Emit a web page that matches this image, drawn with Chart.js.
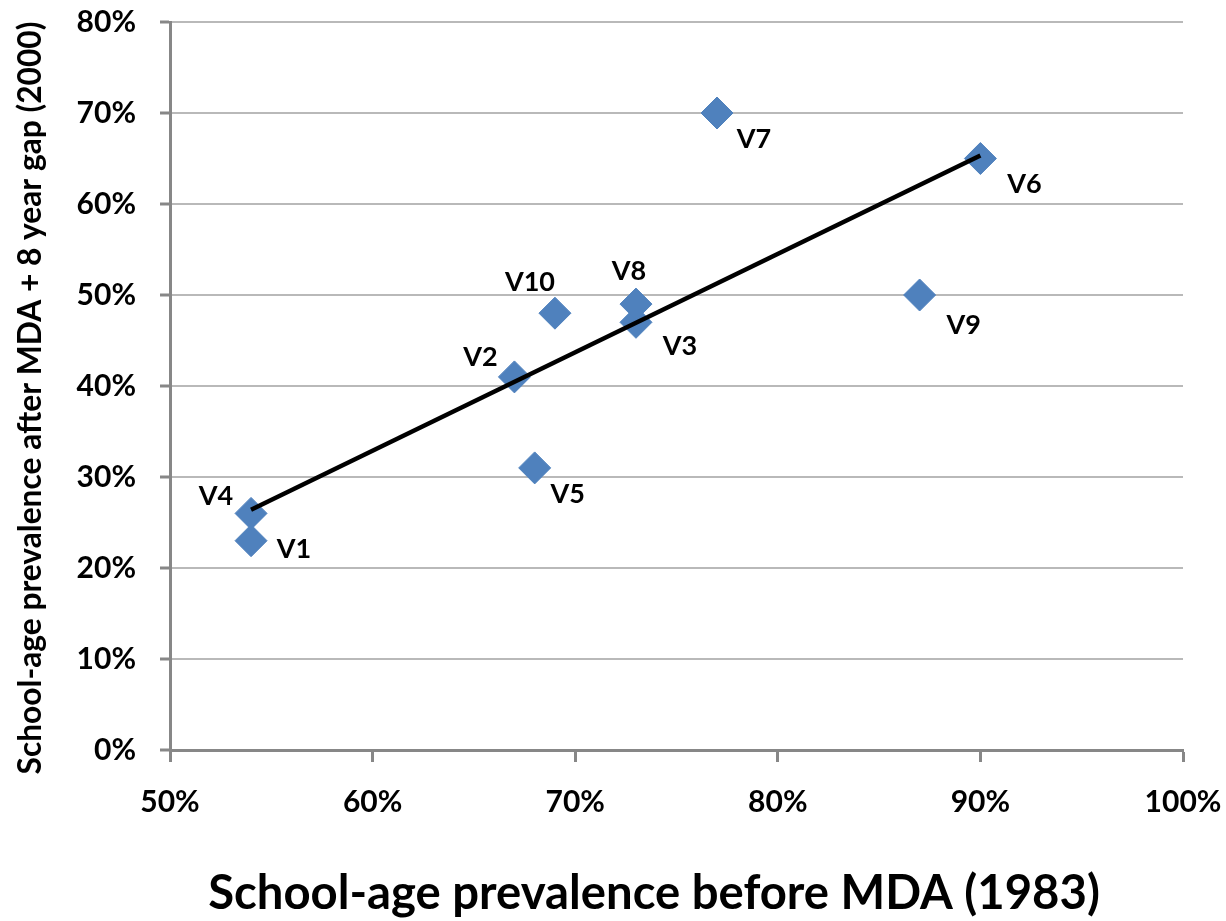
<!DOCTYPE html>
<html>
<head>
<meta charset="utf-8">
<title>School-age prevalence</title>
<script src="https://cdn.jsdelivr.net/npm/chart.js@4.4.1/dist/chart.umd.min.js"></script>
<style>
  html, body { margin: 0; padding: 0; background: #ffffff; }
  #wrap { width: 1226px; height: 921px; }
</style>
</head>
<body>
<div id="wrap"><canvas id="scatterChart" width="1226" height="921"></canvas></div>
<script>
// Datos (porcentajes)
const villageNames = ['V1', 'V2', 'V3', 'V4', 'V5', 'V6', 'V7', 'V8', 'V9', 'V10'];
const prevBefore = [54, 67, 73, 54, 68, 90, 77, 73, 87, 69];
const prevAfter = [23, 41, 47, 26, 31, 65, 70, 49, 50, 48];
const xTicks = [50, 60, 70, 80, 90, 100];
const yTicks = [0, 10, 20, 30, 40, 50, 60, 70, 80];
const xTitle = 'School-age prevalence before MDA (1983)';
const yTitle = 'School-age prevalence after MDA + 8 year gap (2000)';

// Posición de cada etiqueta respecto a su punto (px)
const labelOffsets = [[43, 9], [-34, -20], [44, 24], [-35, -17], [33, 26], [44, 26], [37, 26], [-7, -33], [44, 30], [-25, -31]];

const fontFamily = "Lato, 'Open Sans', sans-serif";
const axisGray = '#878787';
const gridGray = '#b9b9b9';
const markerBlue = '#4f81bd';

// Recta de regresión por mínimos cuadrados
function linearFit(xs, ys) {
    const n = xs.length;
    const mx = xs.reduce((a, b) => a + b, 0) / n;
    const my = ys.reduce((a, b) => a + b, 0) / n;
    let sxy = 0, sxx = 0;
    for (let i = 0; i < n; i++) {
        sxy += (xs[i] - mx) * (ys[i] - my);
        sxx += (xs[i] - mx) * (xs[i] - mx);
    }
    const slope = sxy / sxx;
    return { slope, intercept: my - slope * mx };
}

const fit = linearFit(prevBefore, prevAfter);
const xMin = Math.min(...prevBefore);
const xMax = Math.max(...prevBefore);
const trendPoints = [
    { x: xMin, y: fit.intercept + fit.slope * xMin },
    { x: xMax, y: fit.intercept + fit.slope * xMax }
];

const points = prevBefore.map((x, i) => ({ x: x, y: prevAfter[i] }));

// Ajusta el tamaño de letra para que el texto ocupe un ancho dado
function fitFontSize(ctx, text, targetWidth) {
    ctx.font = `bold 100px ${fontFamily}`;
    return 100 * targetWidth / ctx.measureText(text).width;
}

// Plugin para etiquetas de los puntos y títulos de ejes
const labelsPlugin = {
    id: 'labelsPlugin',
    afterDatasetsDraw(chart) {
        const ctx = chart.ctx;
        const meta = chart.getDatasetMeta(1);
        ctx.save();
        ctx.fillStyle = '#000000';
        ctx.font = `bold 27px ${fontFamily}`;
        ctx.textAlign = 'center';
        ctx.textBaseline = 'middle';
        meta.data.forEach((pt, i) => {
            const off = labelOffsets[i];
            ctx.fillText(villageNames[i], pt.x + off[0], pt.y + off[1]);
        });
        ctx.restore();
    },
    afterDraw(chart) {
        const ctx = chart.ctx;
        ctx.save();
        ctx.fillStyle = '#000000';
        ctx.textAlign = 'center';
        ctx.textBaseline = 'alphabetic';

        // Título eje X
        const xSize = fitFontSize(ctx, xTitle, 892);
        ctx.font = `bold ${xSize}px ${fontFamily}`;
        ctx.fillText(xTitle, 654, 909);

        // Título eje Y (rotado)
        const ySize = fitFontSize(ctx, yTitle, 753);
        ctx.font = `bold ${ySize}px ${fontFamily}`;
        ctx.translate(41, 398);
        ctx.rotate(-Math.PI / 2);
        ctx.fillText(yTitle, 0, 0);
        ctx.restore();
    }
};

const ctx = document.getElementById('scatterChart').getContext('2d');
const scatterChart = new Chart(ctx, {
    type: 'scatter',
    data: {
        datasets: [
            {
                label: 'Tendencia',
                type: 'line',
                data: trendPoints,
                borderColor: '#000000',
                borderWidth: 4.5,
                pointRadius: 0,
                fill: false,
                order: 0
            },
            {
                label: 'Prevalencia',
                data: points,
                pointStyle: 'rectRot',
                pointRadius: 16,
                pointHoverRadius: 16,
                backgroundColor: markerBlue,
                borderColor: markerBlue,
                borderWidth: 1,
                order: 1
            }
        ]
    },
    options: {
        responsive: false,
        animation: false,
        layout: { padding: { left: 0, right: 43, top: 22, bottom: 0 } },
        plugins: {
            legend: { display: false },
            tooltip: { enabled: false }
        },
        scales: {
            x: {
                type: 'linear',
                min: 50,
                max: 100,
                afterBuildTicks: (scale) => { scale.ticks = xTicks.map(v => ({ value: v })); },
                afterFit: (scale) => {
                    scale.height = 171;
                    scale.paddingLeft = 0;
                    scale.paddingRight = 0;
                },
                border: { display: true, color: axisGray, width: 3 },
                grid: {
                    drawOnChartArea: false,
                    drawTicks: true,
                    tickLength: 12,
                    tickColor: axisGray,
                    tickWidth: 3
                },
                ticks: {
                    padding: 22,
                    color: '#000000',
                    font: { family: fontFamily, size: 30, weight: 'bold' },
                    callback: (v) => v + '%'
                }
            },
            y: {
                type: 'linear',
                min: 0,
                max: 80,
                afterBuildTicks: (scale) => { scale.ticks = yTicks.map(v => ({ value: v })); },
                afterFit: (scale) => {
                    scale.width = 170;
                    scale.paddingTop = 0;
                    scale.paddingBottom = 0;
                },
                border: { display: true, color: axisGray, width: 3 },
                grid: {
                    color: gridGray,
                    lineWidth: 2,
                    drawTicks: true,
                    tickLength: 10,
                    tickColor: axisGray,
                    tickWidth: 3
                },
                ticks: {
                    padding: 24,
                    color: '#000000',
                    font: { family: fontFamily, size: 30, weight: 'bold' },
                    callback: (v) => v + '%'
                }
            }
        }
    },
    plugins: [labelsPlugin]
});
</script>
</body>
</html>
